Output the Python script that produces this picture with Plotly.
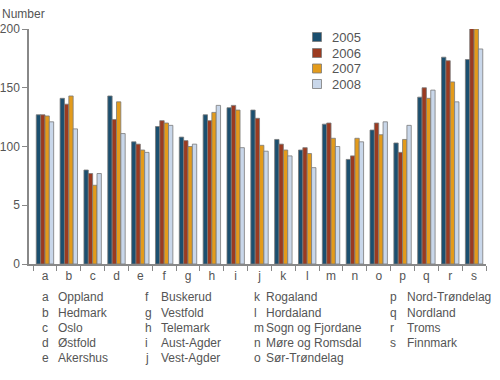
import plotly.graph_objects as go

categories = list("abcdefghijklmnopqrs")
years = ["2005", "2006", "2007", "2008"]
v2005 = [127, 141, 80, 143, 104, 117, 108, 127, 133, 131, 106, 97, 119, 89, 114, 103, 142, 176, 174]
v2006 = [127, 136, 77, 123, 102, 122, 105, 122, 135, 124, 102, 99, 120, 92, 120, 95, 150, 173, 202]
v2007 = [126, 143, 67, 138, 97, 120, 100, 129, 131, 101, 97, 94, 107, 107, 110, 106, 141, 155, 200]
v2008 = [121, 115, 77, 111, 95, 118, 102, 135, 99, 96, 92, 82, 100, 104, 121, 118, 148, 138, 183]
colors = ["#1b4f6f", "#9b3a20", "#e39b1b", "#c9d7ea"]
ytickvals = [0, 50, 100, 150, 200]
yticktext = ["0", "5", "100", "150", "200"]
names = ["Oppland", "Hedmark", "Oslo", "Østfold", "Akershus",
         "Buskerud", "Vestfold", "Telemark", "Aust-Agder", "Vest-Agder",
         "Rogaland", "Hordaland", "Sogn og Fjordane", "Møre og Romsdal", "Sør-Trøndelag",
         "Nord-Trøndelag", "Nordland", "Troms", "Finnmark"]

series = [v2005, v2006, v2007, v2008]
font = "Liberation Sans"
tc = "#555555"

# plot area is 457 x 235 px, top-left at (29, 29)
PW, PH = 457, 235
PX0, PY0 = 29, 29


def px(xp):
    return (xp - PX0) / PW


def py(yp):
    return (PY0 + PH - yp) / PH


fig = go.Figure()
for yr, vals, col in zip(years, series, colors):
    fig.add_trace(go.Bar(x=categories, y=vals, name=yr, showlegend=False, cliponaxis=False,
                         marker=dict(color=col, line=dict(color="#7a7a7a", width=0.8))))

fig.update_layout(
    width=500, height=380,
    margin=dict(l=29, r=14, t=29, b=116, autoexpand=False),
    paper_bgcolor="white", plot_bgcolor="white",
    barmode="group", bargap=0.27, bargroupgap=0,
    font=dict(family=font, size=12, color=tc),
)
fig.update_xaxes(range=[-0.67, 18.5], showline=True, linecolor="#888", linewidth=1.5,
                 ticks="outside", tickson="boundaries", ticklen=5, tickcolor="#888",
                 showgrid=False, zeroline=False, automargin=False,
                 tickfont=dict(size=12, color=tc))
fig.update_yaxes(range=[0, 200], tickvals=ytickvals, ticktext=yticktext,
                 showline=True, linecolor="#888", linewidth=1.5,
                 ticks="outside", ticklen=5, tickcolor="#888", ticklabelstandoff=0,
                 showgrid=False, zeroline=False, automargin=False,
                 tickfont=dict(size=12, color=tc))

fig.add_annotation(text="Number", xref="paper", yref="paper", x=px(0), y=py(14),
                   xanchor="left", yanchor="middle", showarrow=False,
                   font=dict(size=12, color=tc))

# legend (series key)
leg_y = [37, 53, 68.5, 84]
for yr, col, yc in zip(years, colors, leg_y):
    fig.add_shape(type="rect", xref="paper", yref="paper",
                  x0=px(312.5), x1=px(321.5), y0=py(yc - 4.5), y1=py(yc + 4.5),
                  fillcolor=col, line=dict(color="#7a7a7a", width=0.8))
    fig.add_annotation(text=yr, xref="paper", yref="paper", x=px(330), y=py(yc),
                       xanchor="left", yanchor="middle", showarrow=False,
                       font=dict(size=13, color=tc))

col_letter_x = [40, 143, 252, 388]
col_name_x = [56, 159, 264, 405]
row_y = [297, 312.5, 328, 343, 358]
for i, (c, n) in enumerate(zip(categories, names)):
    col, row = divmod(i, 5)
    yp = py(row_y[row])
    fig.add_annotation(text=c, xref="paper", yref="paper",
                       x=px(col_letter_x[col]), y=yp,
                       xanchor="left", yanchor="middle", showarrow=False,
                       font=dict(size=12, color=tc))
    fig.add_annotation(text=n, xref="paper", yref="paper",
                       x=px(col_name_x[col]), y=yp,
                       xanchor="left", yanchor="middle", showarrow=False,
                       font=dict(size=12, color=tc))

fig.write_html("out.html", config={"displayModeBar": False},
               post_script="document.body.style.margin='0';document.body.style.padding='0';")
